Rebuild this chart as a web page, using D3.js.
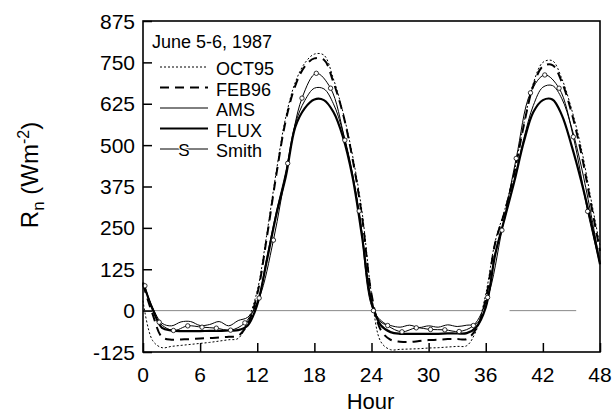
<!DOCTYPE html>
<html>
<head>
<meta charset="utf-8">
<script src="https://cdn.jsdelivr.net/npm/d3@7/dist/d3.min.js"></script>
<style>
body { margin: 0; background: #fff; }
text { font-family: "Liberation Sans", Arial, sans-serif; fill: #000; }
</style>
</head>
<body>
<div id="chart"></div>
<script>
// hourly values, June 5-6 1987
var hours = d3.range(0, 49);

var oct95 = [30, -90, -112, -108, -105, -102, -99, -96, -92, -88, -84, -30, 60, 230, 420, 585, 690, 748, 775, 772, 700, 600, 470, 300, 50,
	-95, -118, -117, -116, -115, -113, -112, -110, -108, -106, -60, 50, 210, 305, 420, 565, 687, 750, 755, 700, 610, 495, 345, 195];

var feb96 = [80, -10, -80, -88, -87, -86, -84, -83, -81, -79, -76, -40, 50, 220, 410, 575, 680, 738, 762, 758, 690, 595, 460, 285, 50,
	-60, -88, -94, -95, -92, -89, -88, -86, -86, -86, -55, 35, 205, 300, 415, 560, 680, 738, 742, 690, 600, 480, 330, 180];

var ams = [82, 10, -38, -46, -34, -33, -45, -42, -33, -46, -30, -20, 25, 160, 298, 420, 565, 635, 672, 670, 625, 540, 415, 235, 30,
	-35, -45, -50, -44, -51, -46, -50, -43, -48, -44, -40, 10, 175, 280, 395, 520, 620, 675, 680, 640, 555, 440, 300, 145];

var flux = [85, 5, -52, -60, -62, -62, -62, -61, -61, -60, -59, -45, 18, 150, 290, 405, 555, 612, 638, 636, 600, 525, 405, 225, 25,
	-45, -65, -70, -70, -70, -70, -70, -69, -69, -68, -50, 10, 170, 280, 390, 510, 600, 636, 638, 590, 500, 395, 275, 140];

var smithHours = [0.2, 1.7, 3.2, 4.7, 6.2, 7.7, 9.2, 10.7, 12.2, 13.7, 15.2, 16.7, 18.2, 19.7, 21.2, 22.7, 24.2,
	25.7, 27.2, 28.7, 30.2, 31.7, 33.2, 34.7, 36.2, 37.7, 39.2, 40.7, 42.2, 43.7, 45.2, 46.7, 48];
var smith = [75, -35, -60, -46, -50, -53, -59, -37, 38, 213, 445, 642, 717, 672, 515, 301, 0,
	-45, -64, -52, -57, -58, -63, -45, 40, 243, 460, 658, 712, 672, 525, 300, 140];

var xTicks = [0, 6, 12, 18, 24, 30, 36, 42, 48];
var yTicks = [-125, 0, 125, 250, 375, 500, 625, 750, 875];

// grey zero reference (drawn in pieces as in the original)
var zeroSegments = [[0, 35.7], [38.5, 45.5]];

var legendNames = ["OCT95", "FEB96", "AMS", "FLUX", "Smith"];

var width = 613, height = 415;
var pLeft = 143, pRight = 600, pTop = 21, pBottom = 352;

var svg = d3.select("#chart")
	.append("svg")
		.attr("width", width)
		.attr("height", height);

var x = d3.scaleLinear().domain([0, 48]).range([pLeft, pRight]);
var y = d3.scaleLinear().domain([-125, 875]).range([pBottom, pTop]);

// zero line
svg.selectAll("line.zero")
	.data(zeroSegments)
	.enter().append("line")
		.attr("x1", function(d) { return x(d[0]); })
		.attr("x2", function(d) { return x(d[1]); })
		.attr("y1", y(0))
		.attr("y2", y(0))
		.attr("stroke", "#888")
		.attr("stroke-width", 1);

var styles = {
	OCT95: { w: 1, dash: "2,2" },
	FEB96: { w: 2, dash: "9,6" },
	AMS:   { w: 1, dash: null },
	FLUX:  { w: 2.2, dash: null },
	Smith: { w: 1, dash: null }
};

var line = d3.line()
	.x(function(d) { return x(d[0]); })
	.y(function(d) { return y(d[1]); })
	.curve(d3.curveCatmullRom.alpha(0.5));

function series(name, xs, vals) {
	var pts = xs.map(function(h, i) { return [h, vals[i]]; });
	svg.append("path")
		.datum(pts)
		.attr("d", line)
		.attr("fill", "none")
		.attr("stroke", "#000")
		.attr("stroke-width", styles[name].w)
		.attr("stroke-dasharray", styles[name].dash)
		.attr("stroke-linejoin", "round");
	return pts;
}

series("OCT95", hours, oct95);
series("FEB96", hours, feb96);
series("AMS", hours, ams);
series("FLUX", hours, flux);
var smithPts = series("Smith", smithHours, smith);

svg.selectAll("circle.smith")
	.data(smithPts.filter(function(d) { return d[0] < 48; }))
	.enter().append("circle")
		.attr("cx", function(d) { return x(d[0]); })
		.attr("cy", function(d) { return y(d[1]); })
		.attr("r", 2.2)
		.attr("fill", "#fff")
		.attr("stroke", "#000")
		.attr("stroke-width", 0.8);

// frame
svg.append("rect")
	.attr("x", pLeft)
	.attr("y", pTop)
	.attr("width", pRight - pLeft)
	.attr("height", pBottom - pTop)
	.attr("fill", "none")
	.attr("stroke", "#000")
	.attr("stroke-width", 1.6);

// inward ticks
var xAxis = d3.axisBottom(x).tickValues(xTicks).tickSize(-9).tickFormat("");
var yAxis = d3.axisLeft(y).tickValues(yTicks).tickSize(-9).tickFormat("");

svg.append("g")
	.attr("transform", "translate(0," + pBottom + ")")
	.call(xAxis)
	.call(function(g) { g.select(".domain").remove(); })
	.selectAll("line").attr("stroke-width", 1.5);

svg.append("g")
	.attr("transform", "translate(" + pLeft + ",0)")
	.call(yAxis)
	.call(function(g) { g.select(".domain").remove(); })
	.selectAll("line").attr("stroke-width", 1.5);

svg.selectAll("text.xt")
	.data(xTicks)
	.enter().append("text")
		.attr("x", function(d) { return x(d); })
		.attr("y", 382)
		.attr("text-anchor", "middle")
		.style("font-size", "21px")
		.text(function(d) { return d; });

svg.selectAll("text.yt")
	.data(yTicks)
	.enter().append("text")
		.attr("x", 135)
		.attr("y", function(d) { return y(d) + 7.5; })
		.attr("text-anchor", "end")
		.style("font-size", "21px")
		.text(function(d) { return d; });

svg.append("text")
	.attr("x", (pLeft + pRight) / 2 - 1)
	.attr("y", 409)
	.attr("text-anchor", "middle")
	.style("font-size", "22px")
	.text("Hour");

var ylab = svg.append("text")
	.attr("transform", "translate(38,175) rotate(-90)")
	.attr("text-anchor", "middle")
	.style("font-size", "24px");
ylab.append("tspan").text("R");
ylab.append("tspan").attr("dy", 6).style("font-size", "17px").text("n");
ylab.append("tspan").attr("dy", -6).text(" (Wm");
ylab.append("tspan").attr("dy", -9).style("font-size", "16px").text("-2");
ylab.append("tspan").attr("dy", 9).text(")");

// legend
svg.append("text")
	.attr("x", 152)
	.attr("y", 48)
	.style("font-size", "18px")
	.text("June 5-6, 1987");

var leg = svg.selectAll("g.leg")
	.data(legendNames)
	.enter().append("g")
		.attr("transform", function(d, i) { return "translate(0," + (75 + i * 20.5) + ")"; });

leg.append("line")
	.attr("x1", 160)
	.attr("x2", 208)
	.attr("y1", -8)
	.attr("y2", -8)
	.attr("stroke", "#000")
	.attr("stroke-width", function(d) { return styles[d].w; })
	.attr("stroke-dasharray", function(d) { return styles[d].dash; });

leg.append("text")
	.attr("x", 216)
	.style("font-size", "18px")
	.text(function(d) { return d; });

leg.filter(function(d) { return d == "Smith"; })
	.append("text")
		.attr("x", 184)
		.attr("y", -1)
		.attr("text-anchor", "middle")
		.style("font-size", "17px")
		.style("paint-order", "stroke")
		.style("stroke", "#fff")
		.style("stroke-width", 2)
		.text("S");
</script>
</body>
</html>
